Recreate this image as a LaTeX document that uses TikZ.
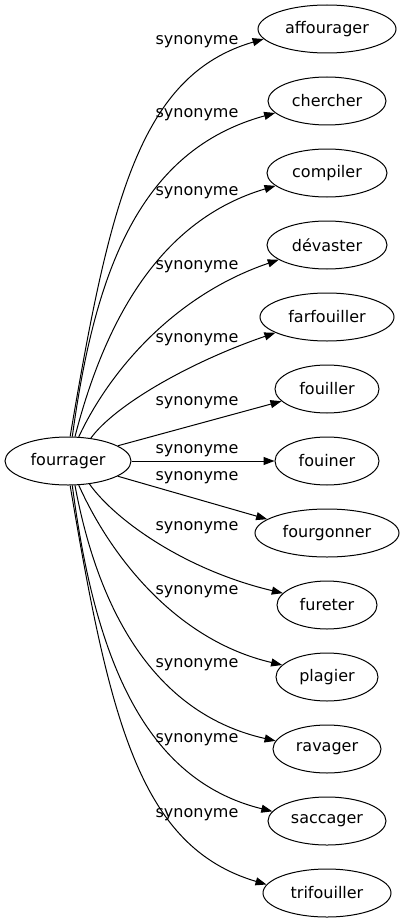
\documentclass[tikz,border=0pt]{standalone}
\usepackage{fontspec}
\setmainfont{DejaVu Sans}
\usetikzlibrary{arrows.meta,shapes.geometric}
\begin{document}
\begin{tikzpicture}[x=1pt,y=-1pt,
  word/.style={ellipse,draw,line width=1pt,inner sep=0pt,minimum height=48pt,font=\fontsize{16}{19}\selectfont},
  lab/.style={inner sep=0pt,font=\fontsize{16}{19}\selectfont},
  edge/.style={line width=1pt,-{Triangle[length=11pt,width=8pt]}}]
\useasboundingbox (0,0) rectangle (404,923);
\fill[white] (0,0) rectangle (404,923);
\node[word,minimum width=126pt] (f) at (68,461) {fourrager};
\node[word,minimum width=138pt] (t1) at (327,29) {affourager};
\node[word,minimum width=118pt] (t2) at (327,101) {chercher};
\node[word,minimum width=120pt] (t3) at (327,173) {compiler};
\node[word,minimum width=120pt] (t4) at (327,245) {dévaster};
\node[word,minimum width=134pt] (t5) at (327,317) {farfouiller};
\node[word,minimum width=104pt] (t6) at (327,389) {fouiller};
\node[word,minimum width=104pt] (t7) at (327,461) {fouiner};
\node[word,minimum width=144pt] (t8) at (327,533) {fourgonner};
\node[word,minimum width=100pt] (t9) at (327,605) {fureter};
\node[word,minimum width=102pt] (t10) at (327,677) {plagier};
\node[word,minimum width=108pt] (t11) at (327,749) {ravager};
\node[word,minimum width=118pt] (t12) at (327,821) {saccager};
\node[word,minimum width=128pt] (t13) at (327,893) {trifouiller};
\draw[edge] (f.85) .. controls (110,200) and (140,75) .. (t1.189);
\draw[edge] (f.80) .. controls (95,270) and (140,150) .. (t2.193);
\draw[edge] (f.74) .. controls (105,320) and (160,220) .. (t3.194);
\draw[edge] (f.66) .. controls (110,370) and (175,295) .. (t4.197);
\draw[edge] (f.45) .. controls (115,405) and (190,362) .. (t5.197);
\draw[edge] (f.17) -- (t6.195);
\draw[edge] (f.0) -- (t7.180);
\draw[edge] (f.343) -- (t8.167);
\draw[edge] (f.313) .. controls (115,520) and (185,570) .. (t9.165);
\draw[edge] (f.294) .. controls (110,555) and (175,640) .. (t10.165);
\draw[edge] (f.286) .. controls (100,620) and (160,715) .. (t11.171);
\draw[edge] (f.280) .. controls (95,660) and (145,780) .. (t12.170);
\draw[edge] (f.275) .. controls (110,722) and (140,847) .. (t13.172);
\node[lab] (l1) at (197,42) {synonyme};
\node[lab] (l2) at (197,115) {synonyme};
\node[lab] (l3) at (197,193) {synonyme};
\node[lab] (l4) at (197,267) {synonyme};
\node[lab] (l5) at (197,340) {synonyme};
\node[lab] (l6) at (197,403) {synonyme};
\node[lab] (l7) at (197,451) {synonyme};
\node[lab] (l8) at (197,478) {synonyme};
\node[lab] (l9) at (197,528) {synonyme};
\node[lab] (l10) at (197,592) {synonyme};
\node[lab] (l11) at (197,665) {synonyme};
\node[lab] (l12) at (197,740) {synonyme};
\node[lab] (l13) at (197,815) {synonyme};
\end{tikzpicture}
\end{document}
